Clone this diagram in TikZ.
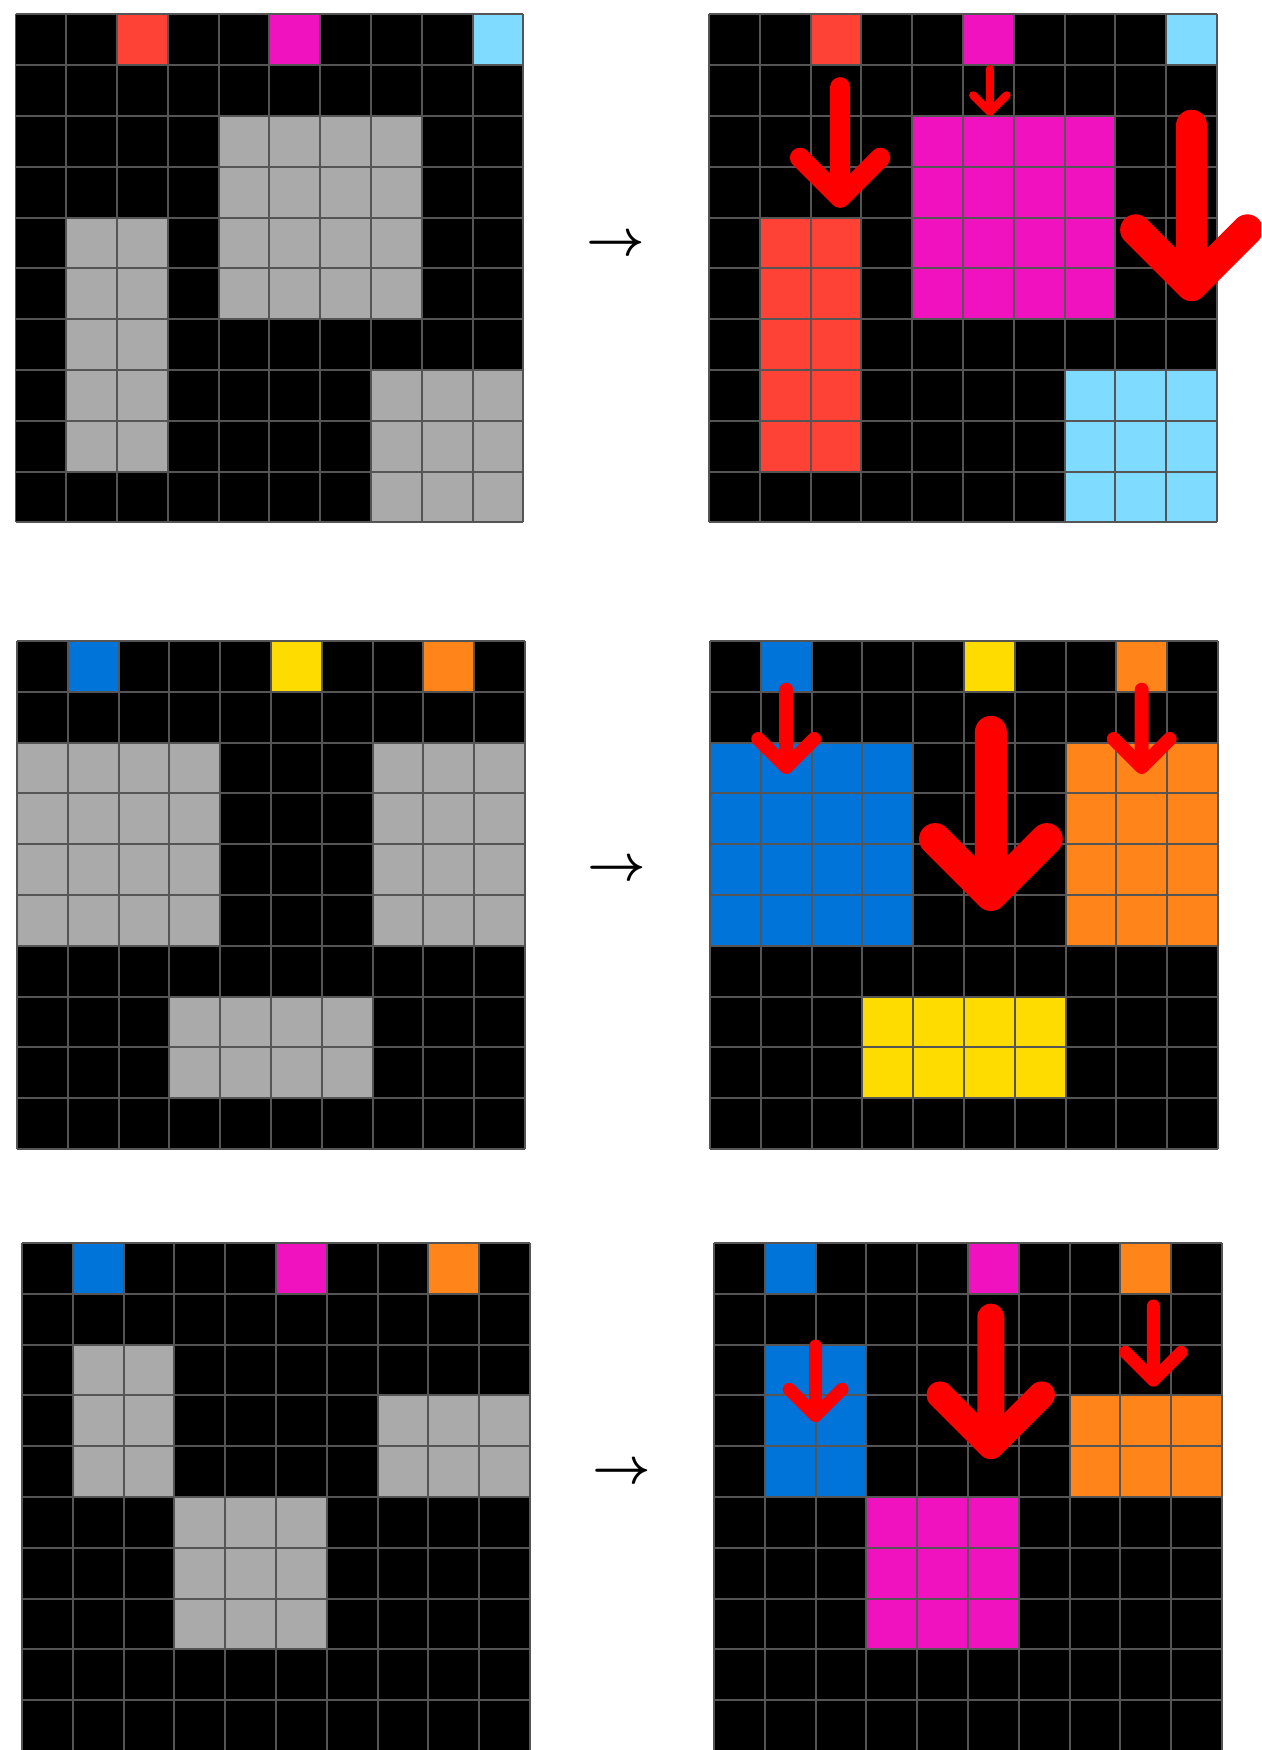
\documentclass[tikz,border=0pt]{standalone}
\usepackage{fix-cm}
\usepackage{tikz}
\definecolor{cellblack}{HTML}{000000}
\definecolor{gridgray}{HTML}{555555}
\definecolor{shapegray}{HTML}{AAAAAA}
\definecolor{arcred}{HTML}{FF4136}
\definecolor{arcmagenta}{HTML}{F012BE}
\definecolor{arccyan}{HTML}{7FDBFF}
\definecolor{arcblue}{HTML}{0074D9}
\definecolor{arcyellow}{HTML}{FFDC00}
\definecolor{arcorange}{HTML}{FF851B}
\definecolor{dropred}{HTML}{FF0000}

% lines of a 10x10 board, drawn over the cells
\newcommand{\boardlines}{%
  \foreach \k in {0,...,10} {
    \draw[gridline] (\k,0) -- (\k,10);
    \draw[gridline] (0,\k) -- (10,\k);
  }}
% column, top, tip, arm, line width
\newcommand{\droparrow}[5]{%
  \draw[drop, line width=#5] (#1,#2) -- (#1,#3)
    (#1-#4,#3-#4) -- (#1,#3) -- (#1+#4,#3-#4);}

\begin{document}
\begin{tikzpicture}[
    x=0.02cm, y=-0.02cm,
    board/.style={shift={#1}, x=1.016cm, y=-1.016cm},
    gridline/.style={draw=gridgray, line width=0.04cm},
    drop/.style={draw=dropred, line cap=round, line join=round},
    maps/.style={inner sep=0pt, font=\fontsize{29}{34}\selectfont\boldmath}
]
\useasboundingbox (0,0) rectangle (1261,1750);
\clip (0,0) rectangle (1261,1750);

% Board corners
\coordinate (in1) at (15.5,14.5);
\coordinate (out1) at (709,14.5);
\coordinate (in2) at (17,641);
\coordinate (out2) at (710,641);
\coordinate (in3) at (22,1243);
\coordinate (out3) at (714,1243);

% Example 1
\begin{scope}[board={(in1)}]
  \fill[cellblack] (0,0) rectangle (10,10);
  \fill[arcred] (2,0) rectangle (3,1);
  \fill[arcmagenta] (5,0) rectangle (6,1);
  \fill[arccyan] (9,0) rectangle (10,1);
  \fill[shapegray] (4,2) rectangle (8,6);
  \fill[shapegray] (1,4) rectangle (3,9);
  \fill[shapegray] (7,7) rectangle (10,10);
  \boardlines
\end{scope}

\node[maps] (map1) at (616,246) {$\rightarrow$};

\begin{scope}[board={(out1)}]
  \fill[cellblack] (0,0) rectangle (10,10);
  \fill[arcred] (2,0) rectangle (3,1);
  \fill[arcmagenta] (5,0) rectangle (6,1);
  \fill[arccyan] (9,0) rectangle (10,1);
  \fill[arcmagenta] (4,2) rectangle (8,6);
  \fill[arcred] (1,4) rectangle (3,9);
  \fill[arccyan] (7,7) rectangle (10,10);
  \boardlines
  \droparrow{2.58}{1.43}{3.61}{0.79}{0.4cm}
  \droparrow{5.53}{1.07}{1.92}{0.33}{0.16cm}
  \droparrow{9.5}{2.18}{5.34}{1.1}{0.62cm}
\end{scope}

% Example 2
\begin{scope}[board={(in2)}]
  \fill[cellblack] (0,0) rectangle (10,10);
  \fill[arcblue] (1,0) rectangle (2,1);
  \fill[arcyellow] (5,0) rectangle (6,1);
  \fill[arcorange] (8,0) rectangle (9,1);
  \fill[shapegray] (0,2) rectangle (4,6);
  \fill[shapegray] (7,2) rectangle (10,6);
  \fill[shapegray] (3,7) rectangle (7,9);
  \boardlines
\end{scope}

\node[maps] (map2) at (617,871) {$\rightarrow$};

\begin{scope}[board={(out2)}]
  \fill[cellblack] (0,0) rectangle (10,10);
  \fill[arcblue] (1,0) rectangle (2,1);
  \fill[arcyellow] (5,0) rectangle (6,1);
  \fill[arcorange] (8,0) rectangle (9,1);
  \fill[arcblue] (0,2) rectangle (4,6);
  \fill[arcorange] (7,2) rectangle (10,6);
  \fill[arcyellow] (3,7) rectangle (7,9);
  \boardlines
  \droparrow{1.5}{0.96}{2.48}{0.55}{0.28cm}
  \droparrow{5.53}{1.79}{5.0}{1.1}{0.64cm}
  \droparrow{8.5}{0.96}{2.48}{0.55}{0.28cm}
\end{scope}

% Example 3
\begin{scope}[board={(in3)}]
  \fill[cellblack] (0,0) rectangle (10,10);
  \fill[arcblue] (1,0) rectangle (2,1);
  \fill[arcmagenta] (5,0) rectangle (6,1);
  \fill[arcorange] (8,0) rectangle (9,1);
  \fill[shapegray] (1,2) rectangle (3,5);
  \fill[shapegray] (7,3) rectangle (10,5);
  \fill[shapegray] (3,5) rectangle (6,8);
  \boardlines
\end{scope}

\node[maps] (map3) at (622,1474) {$\rightarrow$};

\begin{scope}[board={(out3)}]
  \fill[cellblack] (0,0) rectangle (10,10);
  \fill[arcblue] (1,0) rectangle (2,1);
  \fill[arcmagenta] (5,0) rectangle (6,1);
  \fill[arcorange] (8,0) rectangle (9,1);
  \fill[arcblue] (1,2) rectangle (3,5);
  \fill[arcorange] (7,3) rectangle (10,5);
  \fill[arcmagenta] (3,5) rectangle (6,8);
  \boardlines
  \droparrow{2.0}{2.03}{3.4}{0.52}{0.26cm}
  \droparrow{5.45}{1.46}{3.99}{1.0}{0.54cm}
  \droparrow{8.65}{1.24}{2.7}{0.55}{0.26cm}
\end{scope}

\end{tikzpicture}
\end{document}
